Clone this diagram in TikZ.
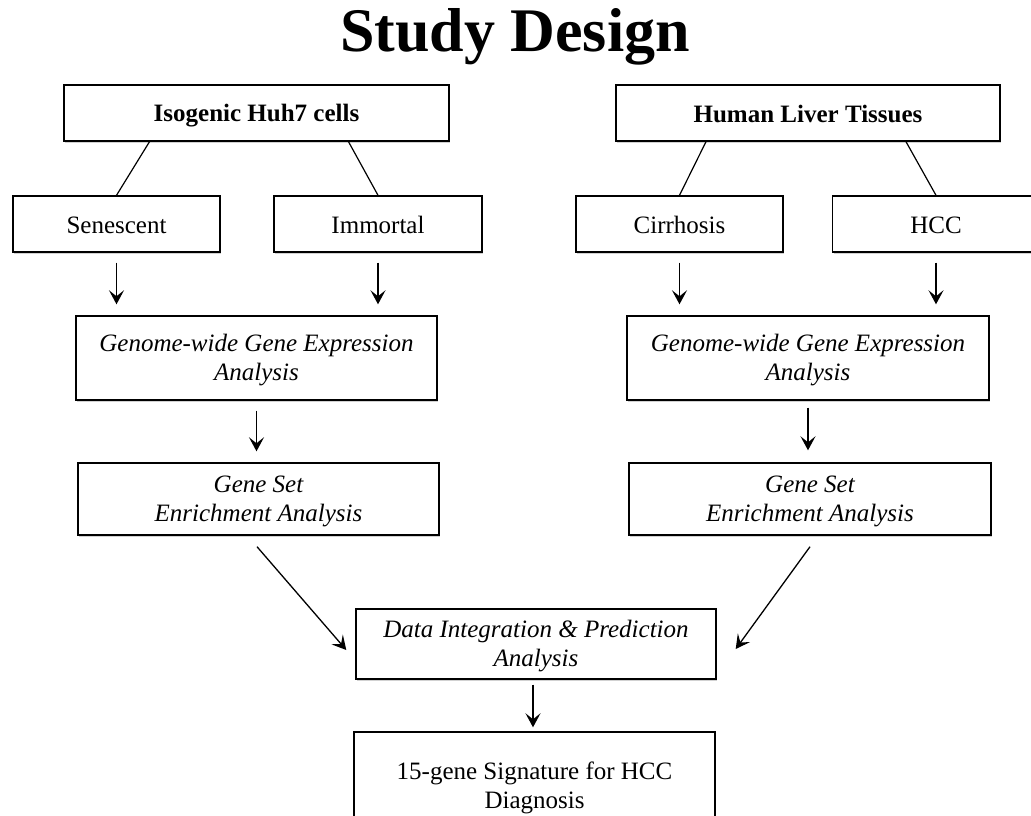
\documentclass[tikz,border=0pt]{standalone}
\usepackage{fontspec}
\setmainfont{Liberation Serif}
\usetikzlibrary{arrows.meta,calc,shadows}
\newcommand\ms{\rule[-4pt]{0pt}{26pt}}
\tikzset{
  box/.style={draw, line width=1.4pt, fill=white, align=center, inner sep=0pt,
    font=\fontsize{25}{29}\selectfont,
    drop shadow={shadow xshift=1pt, shadow yshift=-2pt, opacity=0.18, fill=black}},
  link/.style={line width=1.2pt},
  arr/.style={line width=1.3pt, -{Stealth[length=14pt,width=15pt,inset=6pt]}},
  vgap/.style={shorten <=10pt, shorten >=11pt}
}
\begin{document}
\begin{tikzpicture}[x=1pt,y=-1pt]
\useasboundingbox[fill=white] (0,0) rectangle (1031,816);
\node[anchor=base, font=\fontsize{62}{70}\selectfont\bfseries] (title) at (515,52) {Study Design};
% top boxes
\node[box, minimum width=385pt, minimum height=56pt] (iso) at (256.5,113) {\ms\textbf{Isogenic Huh7 cells}};
\node[box, minimum width=384pt, minimum height=56pt] (hlt) at (808,113) {\ms\textbf{Human Liver Tissues}};
% second level
\node[box, minimum width=207pt, minimum height=56pt] (sen) at (116.5,224) {\ms Senescent};
\node[box, minimum width=208pt, minimum height=56pt] (imm) at (378,224) {\ms Immortal};
\node[box, minimum width=207pt, minimum height=56pt] (cir) at (679.5,224) {\ms Cirrhosis};
\node[box, minimum width=207pt, minimum height=56pt] (hcc) at (936,224) {\ms HCC};
% genome-wide
\node[box, minimum width=361pt, minimum height=84pt] (gen1) at (256.5,358) {\ms\itshape Genome-wide Gene Expression\\\ms\itshape Analysis};
\node[box, minimum width=362pt, minimum height=84pt] (gen2) at (808,358) {\ms\itshape Genome-wide Gene Expression\\\ms\itshape Analysis};
% gene set
\node[box, minimum width=361pt, minimum height=72pt] (gse1) at (258.5,499) {\ms\itshape Gene Set\\\ms\itshape Enrichment Analysis};
\node[box, minimum width=362pt, minimum height=72pt] (gse2) at (810,499) {\ms\itshape Gene Set\\\ms\itshape Enrichment Analysis};
% integration
\node[box, minimum width=360pt, minimum height=70pt] (dip) at (536,644) {\ms\itshape Data Integration \& Prediction\\\ms\itshape Analysis};
\node[box, minimum width=361pt, minimum height=107pt] (sig) at (534.5,785.5) {\ms 15-gene Signature for HCC\\\ms Diagnosis};
% tree links
\draw[link] ($(iso.south)+(-107,0)$) -- (sen.north);
\draw[link] ($(iso.south)+(92,0)$) -- (imm.north);
\draw[link] ($(hlt.south)+(-102,0)$) -- (cir.north);
\draw[link] ($(hlt.south)+(98,0)$) -- (hcc.north);
% vertical arrows
\draw[arr, vgap] (sen.south) -- (sen.south |- gen1.north);
\draw[arr, vgap] (imm.south) -- (imm.south |- gen1.north);
\draw[arr, vgap] (cir.south) -- (cir.south |- gen2.north);
\draw[arr, vgap] (hcc.south) -- (hcc.south |- gen2.north);
\draw[arr, vgap] (gen1.south) -- (gen1.south |- gse1.north);
\draw[arr, shorten <=7pt, shorten >=12pt] (gen2.south) -- (gen2.south |- gse2.north);
\draw[arr, shorten <=5pt, shorten >=4pt] ($(dip.south)+(-3,0)$) -- ($(dip.south |- sig.north)+(-3,0)$);
% diagonals
\draw[arr] ($(gse1.south)+(-1.5,11)$) -- ($(dip.west)+(-9,6)$);
\draw[arr] ($(gse2.south)+(0,11)$) -- ($(dip.east)+(19,5)$);
\end{tikzpicture}
\end{document}
